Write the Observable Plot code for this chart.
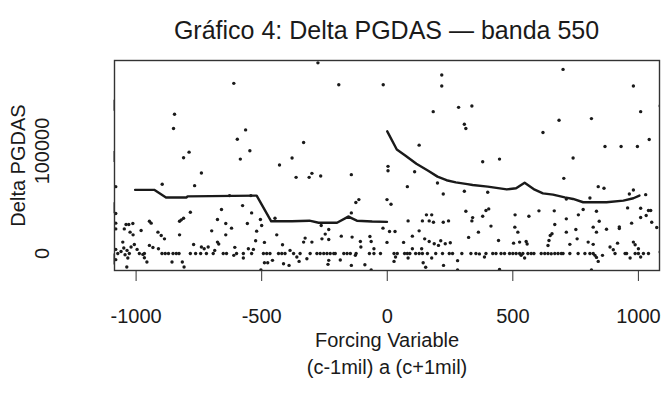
<!DOCTYPE html>
<html><head><meta charset="utf-8">
<script src="https://cdn.jsdelivr.net/npm/d3@7"></script>
<script src="https://cdn.jsdelivr.net/npm/@observablehq/plot@0.6"></script>
<style>
body{margin:0;background:#fff;font-family:"Liberation Sans",Arial,sans-serif;color:#1a1a1a;}
#title{width:545px;height:50px;box-sizing:border-box;margin-left:114px;padding-top:18px;line-height:25px;font-size:25px;text-align:center;white-space:nowrap;}
</style></head><body>
<div id="title">Gráfico 4: Delta PGDAS — banda 550</div>
<div id="chart"></div>
<script>
const titleText = "Gráfico 4: Delta PGDAS — banda 550";
const yLabel = "Delta PGDAS";
const xLabel = "Forcing Variable\n(c-1mil) a (c+1mil)";
const xTicks = [-1000, -500, 0, 500, 1000];
const yTicks = [0, 50000, 100000, 150000];
const yTickLabels = ["0", "", "100000", ""];

const scatterLeft = [
[-847,135800],[-851,122000],[-811,93400],[-789,98900],[-740,78500],[-896,67500],[-767,66200],[-1081,65200],[-784,40300],[-1081,39000],[-1081,29600],[-1081,24000],[-1040,28300],[-1029,28300],[-1013,29200],[-1047,24000],[-1024,20800],[-1012,18200],[-980,22400],[-947,31500],[-940,29600],[-913,20800],[-900,17600],[-887,14300],[-827,31500],[-820,32800],[-811,34400],[-827,18200],[-1081,4000],[-1081,-6000],[-1053,11100],[-1049,5300],[-1044,-1200],[-1036,3000],[-1033,-4400],[-1037,-13200],[-1007,8800],[-996,4000],[-973,-900],[-967,-4100],[-957,-8300],[-947,7900],[-933,5900],[-911,4600],[-857,-8300],[-816,-8300],[-809,-13200],[-771,8800],[-740,6300],[-1020,6300],[-1060,2000],
[-1073,0],[-1027,0],[-987,0],[-967,0],[-897,0],[-884,0],[-871,0],[-853,0],[-840,0],[-829,0],[-784,0],[-763,0],[-743,0],
[-611,166000],[-564,120600],[-597,111500],[-547,100200],[-585,92100],[-429,86300],[-379,93100],[-628,56500],[-543,56500],[-660,42900],[-576,46700],[-540,39600],[-676,33100],[-643,29300],[-620,24700],[-699,22100],[-643,18200],[-557,29300],[-505,33100],[-500,27300],[-520,21800],[-447,34400],[-524,12400],[-489,10800],[-440,18200],[-417,8500],[-676,11100],[-671,9200],[-713,6300],[-687,3000],[-729,4600],[-607,6000],[-553,4600],[-533,4000],[-573,-4400],[-489,-9000],[-476,-9000],[-457,-6700],[-503,-16000],[-413,-10000],[-391,-11600],[-387,3000],[-611,-1800],
[-720,0],[-693,0],[-653,0],[-640,0],[-600,0],[-573,0],[-540,0],[-493,0],[-480,0],[-467,0],[-433,0],[-420,0],[-407,0],
[-276,186000],[-193,164700],[-16,164700],[-333,108300],[-363,74300],[-311,74300],[-300,78200],[-265,75600],[-143,76900],[-113,52600],[-125,49700],[-143,39600],[-153,35400],[-263,27300],[-233,23400],[-247,18900],[-260,14300],[-327,15000],[-333,11100],[-300,11100],[-233,13700],[-183,16900],[-140,16000],[-107,11700],[-69,16600],[-64,11700],[-105,6300],[-53,4600],[-17,24700],[-360,-3500],[-351,-7700],[-320,-5100],[-187,-6400],[-143,-11600],[-127,-1800],[-89,-11000],[-64,-16000],[-233,-6700],[-236,-10600],
[-373,0],[-347,0],[-307,0],[-280,0],[-267,0],[-253,0],[-240,0],[-227,0],[-213,0],[-207,0],[-173,0],[-160,0],[-147,0],[-124,0],[-71,0],[-53,0],[-27,0],
[-1,52600],[-1,10800]
];

const scatterRight = [
[217,174100],[217,163400],[183,138400],[284,142600],[337,143900],[307,126100],[313,121900],[127,105700],[3,85000],[3,80800],[109,79800],[80,65200],[200,68800],[223,58100],[307,60700],[15,48000],[313,41200],[156,37700],[177,37700],[167,31800],[140,31800],[184,30500],[223,30500],[244,31800],[83,31800],[337,31800],[9,21500],[31,21500],[127,22100],[100,16900],[149,14300],[167,11700],[187,9500],[204,7900],[213,12400],[231,9500],[251,10500],[65,10800],[324,15700],[33,-3500],[27,-7700],[83,-4400],[143,-9000],[153,-13500],[177,-4400],[224,-11600],[280,-7000],[280,-16000],[100,4600],[137,4600],
[27,0],[40,0],[69,0],[80,0],[90,0],[113,0],[127,0],[140,0],[160,0],[193,0],[220,0],[247,0],[260,0],[297,0],[333,0],
[700,179600],[684,130000],[620,118000],[380,89500],[447,92100],[703,73300],[400,59700],[393,41900],[404,43500],[380,36400],[340,35000],[509,37700],[564,36400],[604,41600],[665,41600],[667,28300],[508,25700],[520,20800],[413,26700],[363,20800],[443,12700],[649,17600],[656,19200],[644,12700],[503,10100],[527,11100],[553,11700],[557,9200],[640,7800],[367,-400],[387,-3500],[533,-1800],[547,-4400],[447,-15500],[653,-300],
[353,0],[393,0],[420,0],[433,0],[453,0],[467,0],[487,0],[500,0],[513,0],[527,0],[540,0],[560,0],[573,0],[584,0],[613,0],[627,0],[640,0],[667,0],[680,0],[693,0],
[980,163400],[1087,144000],[1009,138400],[813,131600],[1043,111200],[867,104400],[931,104400],[996,104400],[740,93100],[840,65200],[863,63600],[807,54200],[964,58100],[980,62000],[1029,57400],[713,53200],[780,42900],[833,41200],[957,44500],[1009,44100],[1040,41900],[1049,41900],[761,37700],[713,33800],[1009,35100],[1031,37000],[1053,30500],[1073,25400],[844,31500],[924,26000],[924,24400],[973,29600],[713,20800],[751,23400],[820,25700],[833,20800],[873,23700],[756,14300],[727,8900],[800,11100],[820,8900],[887,6300],[917,10100],[980,11100],[987,8500],[1000,4600],[827,-1800],[833,-3800],[840,-7700],[857,-1800],[967,-4400],[1009,-3400],[1087,1400],[813,-16000],[900,3600],
[700,0],[727,0],[760,0],[787,0],[807,0],[820,0],[907,0],[947,0],[953,0],[987,0],[1000,0],[1020,0],[1040,0]
];

const fitLeftX = [-1004, -928, -881, -799, -795, -520, -462, -380, -310, -273, -200, -155, -121, -60, -1];
const fitLeftY = [62100, 62100, 54700, 54700, 55700, 56500, 31400, 31400, 32000, 30000, 30000, 36000, 32000, 31200, 30800];
const fitRightX = [0, 38, 73, 116, 163, 200, 236, 273, 319, 340, 400, 476, 513, 547, 587, 620, 660, 707, 740, 780, 873, 940, 980, 1004];
const fitRightY = [119200, 101400, 95400, 87600, 80700, 75000, 71500, 69400, 67700, 66800, 65200, 62500, 63600, 69000, 62300, 58700, 57400, 54800, 53200, 50000, 50000, 51600, 53900, 56500];

const points = scatterLeft.concat(scatterRight).map(([x, y]) => ({x, y}));
const leftLine = fitLeftX.map((x, i) => ({x, y: fitLeftY[i]}));
const rightLine = fitRightX.map((x, i) => ({x, y: fitRightY[i]}));
const ink = "#1a1a1a";

document.getElementById("title").textContent = titleText;

const chart = Plot.plot({
  width: 664,
  height: 355,
  marginTop: 10,
  marginBottom: 135,
  marginLeft: 114,
  marginRight: 5,
  style: {fontFamily: "'Liberation Sans', Arial, sans-serif", color: ink, background: "#fff"},
  x: {domain: [-1086, 1084]},
  y: {domain: [-16600, 188300]},
  marks: [
    Plot.dot(points, {x: "x", y: "y", r: 1.7, fill: ink, stroke: "none", clip: true}),
    Plot.line(leftLine, {x: "x", y: "y", stroke: ink, strokeWidth: 2.4}),
    Plot.line(rightLine, {x: "x", y: "y", stroke: ink, strokeWidth: 2.4}),
    Plot.frame({stroke: "#333", strokeWidth: 1.4}),
    Plot.axisX({ticks: xTicks, tickFormat: d => String(d), tickSize: 11, tickPadding: 27, fontSize: 20, label: null, stroke: "#333"}),
    Plot.axisY({ticks: yTicks, tickFormat: (d) => yTickLabels[yTicks.indexOf(d)], tickSize: 11, tickPadding: 61, fontSize: 20, rotate: -90, textAnchor: "middle", lineAnchor: "middle", label: null, stroke: "#333"}),
    Plot.text([yLabel], {text: d => d, frameAnchor: "left", rotate: -90, dx: -96, fontSize: 20, textAnchor: "middle", lineAnchor: "middle", fill: ink}),
    Plot.text([xLabel], {text: d => d, frameAnchor: "bottom", dy: 57, fontSize: 20, lineHeight: 1.35, textAnchor: "middle", lineAnchor: "top", fill: ink})
  ]
});
document.getElementById("chart").appendChild(chart);
</script>
</body></html>
